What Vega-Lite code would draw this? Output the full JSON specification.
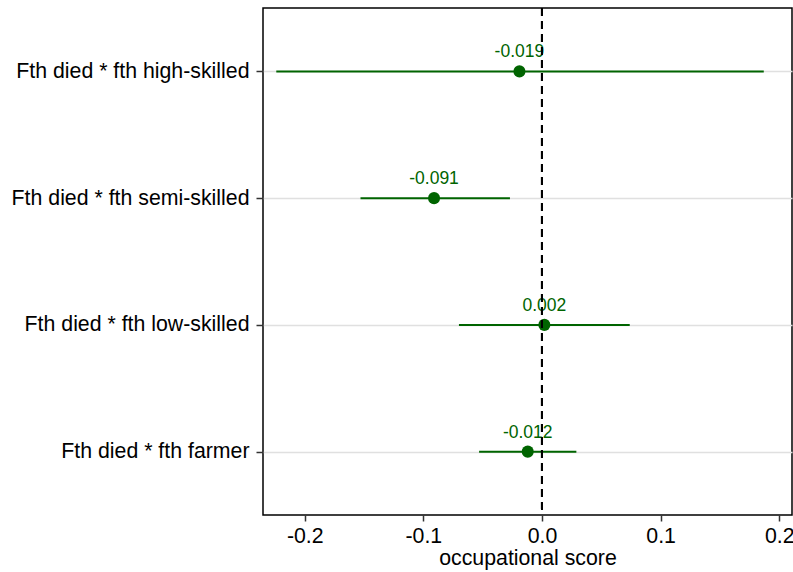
{
  "$schema": "https://vega.github.io/schema/vega-lite/v6.json",
  "width": 529,
  "height": 507,
  "autosize": {"type": "none"},
  "padding": {"left": 263, "top": 8, "right": 1, "bottom": 57},
  "background": "white",
  "config": {
    "font": "Liberation Sans",
    "view": {"stroke": "black", "strokeWidth": 1.5}
  },
  "data": {
    "values": [
      {"term": "Fth died * fth high-skilled\u00a0", "est": -0.019, "lo": -0.224, "hi": 0.187, "label": "-0.019"},
      {"term": "Fth died * fth semi-skilled", "est": -0.091, "lo": -0.153, "hi": -0.027, "label": "-0.091"},
      {"term": "Fth died * fth low-skilled", "est": 0.002, "lo": -0.070, "hi": 0.074, "label": "0.002"},
      {"term": "Fth died * fth farmer", "est": -0.012, "lo": -0.053, "hi": 0.029, "label": "-0.012"}
    ]
  },
  "layer": [
    {
      "mark": {"type": "rule", "color": "#006400", "strokeWidth": 2},
      "encoding": {
        "y": {
          "field": "term", "type": "nominal", "sort": null,
          "scale": {"type": "point", "padding": 0.5},
          "axis": {
            "title": null, "domain": false, "grid": true, "gridColor": "#e0e0e0", "gridWidth": 1.5,
            "labelFontSize": 21.3, "labelColor": "black", "labelPadding": 7, "labelLimit": 400,
            "tickSize": 7, "tickColor": "#333333", "tickWidth": 1.5
          }
        },
        "x": {
          "field": "lo", "type": "quantitative",
          "scale": {"domain": [-0.2352, 0.2108], "nice": false, "zero": false},
          "axis": {
            "values": [-0.2, -0.1, 0, 0.1, 0.2], "format": ".1f",
            "labelExpr": "replace(datum.label, '\u2212', '-')",
            "domain": false, "grid": false,
            "labelFontSize": 21.3, "labelColor": "black", "labelPadding": 4,
            "tickSize": 6, "tickColor": "#333333", "tickWidth": 1.5,
            "title": "occupational score", "titleFontSize": 21.3, "titleFontWeight": "normal",
            "titleColor": "black", "titlePadding": 1
          }
        },
        "x2": {"field": "hi"}
      }
    },
    {
      "mark": {"type": "point", "filled": true, "color": "#006400", "size": 145, "opacity": 1},
      "encoding": {
        "x": {"field": "est", "type": "quantitative"},
        "y": {"field": "term", "type": "nominal", "sort": null}
      }
    },
    {
      "mark": {"type": "text", "color": "#006400", "dy": -19, "fontSize": 17.5},
      "encoding": {
        "x": {"field": "est", "type": "quantitative"},
        "y": {"field": "term", "type": "nominal", "sort": null},
        "text": {"field": "label"}
      }
    },
    {
      "mark": {"type": "rule", "color": "black", "strokeWidth": 2, "strokeDash": [8, 5]},
      "encoding": {"x": {"datum": 0}}
    }
  ]
}
